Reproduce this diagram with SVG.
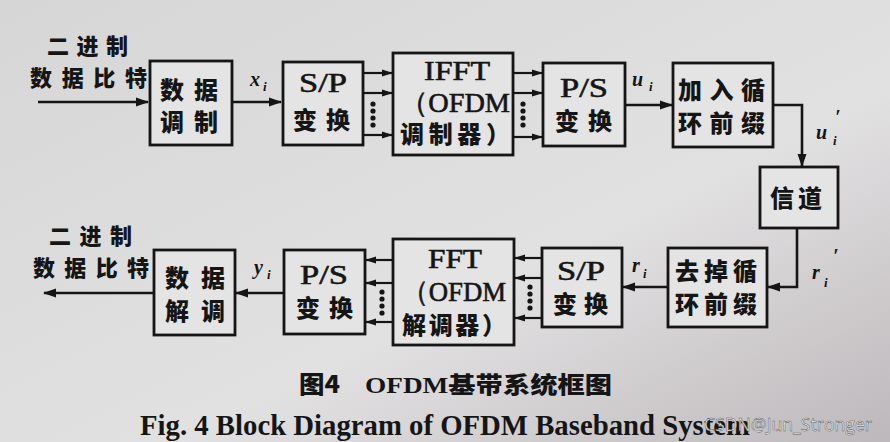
<svg xmlns="http://www.w3.org/2000/svg" width="890" height="442" viewBox="0 0 890 442">
<defs>
<linearGradient id="bg" x1="0" y1="0" x2="1" y2="1">
<stop offset="0" stop-color="#d6d6d6"/>
<stop offset="0.6" stop-color="#e2e1e2"/>
<stop offset="1" stop-color="#bdb8bb"/>
</linearGradient>
<marker id="ah" markerUnits="userSpaceOnUse" markerWidth="14" markerHeight="10" refX="12" refY="5" orient="auto">
<path d="M0,0.5 L13,5 L0,9.5 Z" fill="#151515"/>
</marker>
<marker id="ahs" markerUnits="userSpaceOnUse" markerWidth="12" markerHeight="8" refX="10" refY="4" orient="auto">
<path d="M0,0.5 L11,4 L0,7.5 Z" fill="#151515"/>
</marker>
</defs>
<style>
.box{fill:#e4e4e4;stroke:#151515;stroke-width:2.8}
.cn{font-family:"Noto Sans CJK SC","Noto Sans CJK JP",sans-serif;font-weight:900;fill:#151515;font-size:24px}
.cnl{font-family:"Noto Sans CJK SC","Noto Sans CJK JP",sans-serif;font-weight:900;fill:#151515;font-size:22px}
.lat{font-family:"Liberation Serif","Times New Roman",serif;fill:#151515;font-size:28px;stroke:#151515;stroke-width:0.6;text-anchor:middle}
.var{font-family:"Liberation Serif","Times New Roman",serif;font-style:italic;font-weight:bold;fill:#151515;font-size:20px}
.sub{font-family:"Liberation Serif","Times New Roman",serif;font-style:italic;font-weight:bold;fill:#151515;font-size:13px}
.ln{fill:none;stroke:#151515;stroke-width:2.6}
.ln2{fill:none;stroke:#151515;stroke-width:2.2}
.dot{fill:#151515}
</style>
<rect x="0" y="0" width="890" height="442" fill="url(#bg)"/>

<g id="connectors">
<path class="ln" d="M38,102 H148" marker-end="url(#ah)"/>
<path class="ln" d="M232,102 H281" marker-end="url(#ah)"/>
<path class="ln2" d="M363,73 H392" marker-end="url(#ahs)"/>
<path class="ln2" d="M363,93 H392" marker-end="url(#ahs)"/>
<path class="ln2" d="M363,135 H392" marker-end="url(#ahs)"/>
<circle class="dot" cx="373" cy="104" r="2.6"/><circle class="dot" cx="373" cy="111" r="2.6"/><circle class="dot" cx="373" cy="118" r="2.6"/><circle class="dot" cx="373" cy="125" r="2.6"/>
<path class="ln2" d="M513,73 H542" marker-end="url(#ahs)"/>
<path class="ln2" d="M513,93 H542" marker-end="url(#ahs)"/>
<path class="ln2" d="M513,137 H542" marker-end="url(#ahs)"/>
<circle class="dot" cx="523" cy="104" r="2.6"/><circle class="dot" cx="523" cy="111" r="2.6"/><circle class="dot" cx="523" cy="118" r="2.6"/><circle class="dot" cx="523" cy="125" r="2.6"/>
<path class="ln" d="M625,105 H672" marker-end="url(#ah)"/>
<path class="ln" d="M773,105 H802 V166" marker-end="url(#ah)"/>
<path class="ln" d="M797,228 V287 H768" marker-end="url(#ah)"/>
<path class="ln" d="M668,287 H623" marker-end="url(#ah)"/>
<path class="ln2" d="M542,258 H515" marker-end="url(#ahs)"/>
<path class="ln2" d="M542,278 H515" marker-end="url(#ahs)"/>
<path class="ln2" d="M542,318 H515" marker-end="url(#ahs)"/>
<circle class="dot" cx="530" cy="287" r="2.6"/><circle class="dot" cx="530" cy="294" r="2.6"/><circle class="dot" cx="530" cy="301" r="2.6"/><circle class="dot" cx="530" cy="308" r="2.6"/>
<path class="ln2" d="M393,260 H366" marker-end="url(#ahs)"/>
<path class="ln2" d="M393,283 H366" marker-end="url(#ahs)"/>
<path class="ln2" d="M393,322 H366" marker-end="url(#ahs)"/>
<circle class="dot" cx="382" cy="292" r="2.6"/><circle class="dot" cx="382" cy="299" r="2.6"/><circle class="dot" cx="382" cy="306" r="2.6"/><circle class="dot" cx="382" cy="313" r="2.6"/>
<path class="ln" d="M284,293 H236" marker-end="url(#ah)"/>
<path class="ln" d="M154,293 H44" marker-end="url(#ah)"/>
</g>

<g id="labels">
<text class="cnl" x="47" y="54" textLength="81" lengthAdjust="spacing">二进制</text>
<text class="cnl" x="30" y="86" textLength="117" lengthAdjust="spacing">数据比特</text>
<text class="cnl" x="49" y="244" textLength="83" lengthAdjust="spacing">二进制</text>
<text class="cnl" x="33" y="276" textLength="116" lengthAdjust="spacing">数据比特</text>
<text class="var" x="250" y="86">x</text><text class="sub" x="263" y="91">i</text>
<text class="var" x="632" y="86">u</text><text class="sub" x="649" y="91">i</text>
<text class="var" x="816" y="139">u</text><text class="sub" x="833" y="145">i</text><text class="var" x="835" y="124">′</text>
<text class="var" x="632" y="272">r</text><text class="sub" x="643" y="278">i</text>
<text class="var" x="812" y="279">r</text><text class="sub" x="824" y="287">i</text><text class="var" x="833" y="263">′</text>
<text class="var" x="254" y="274">y</text><text class="sub" x="267" y="279">i</text>
</g>

<g id="n_mod">
<rect class="box" x="150" y="61" width="82" height="84"/>
<text class="cn" x="160" y="99" textLength="58" lengthAdjust="spacing">数据</text>
<text class="cn" x="160" y="131" textLength="58" lengthAdjust="spacing">调制</text>
</g>
<g id="n_sp1">
<rect class="box" x="283" y="62" width="80" height="83"/>
<text class="lat" x="323" y="92" textLength="48" lengthAdjust="spacingAndGlyphs">S/P</text>
<text class="cn" x="293" y="129" textLength="57" lengthAdjust="spacing">变换</text>
</g>
<g id="n_ifft">
<rect class="box" x="393" y="53" width="120" height="102"/>
<text class="lat" x="457" y="80" textLength="66" lengthAdjust="spacingAndGlyphs">IFFT</text>
<text class="lat" x="455" y="112" textLength="110" lengthAdjust="spacingAndGlyphs">（OFDM</text>
<text class="cn" x="400" y="143" textLength="110" lengthAdjust="spacing">调制器）</text>
</g>
<g id="n_ps1">
<rect class="box" x="543" y="63" width="82" height="83"/>
<text class="lat" x="584" y="97" textLength="48" lengthAdjust="spacingAndGlyphs">P/S</text>
<text class="cn" x="555" y="130" textLength="57" lengthAdjust="spacing">变换</text>
</g>
<g id="n_addcp">
<rect class="box" x="673" y="63" width="100" height="84"/>
<text class="cn" x="678" y="99" textLength="87" lengthAdjust="spacing">加入循</text>
<text class="cn" x="678" y="132" textLength="87" lengthAdjust="spacing">环前缀</text>
</g>
<g id="n_channel">
<rect class="box" x="760" y="167" width="78" height="61"/>
<text class="cn" x="770" y="207" textLength="52" lengthAdjust="spacing">信道</text>
</g>
<g id="n_rmcp">
<rect class="box" x="668" y="248" width="99" height="79"/>
<text class="cn" x="675" y="280" textLength="82" lengthAdjust="spacing">去掉循</text>
<text class="cn" x="675" y="313" textLength="82" lengthAdjust="spacing">环前缀</text>
</g>
<g id="n_sp2">
<rect class="box" x="542" y="248" width="80" height="79"/>
<text class="lat" x="581" y="280" textLength="48" lengthAdjust="spacingAndGlyphs">S/P</text>
<text class="cn" x="553" y="313" textLength="55" lengthAdjust="spacing">变换</text>
</g>
<g id="n_fft">
<rect class="box" x="393" y="239" width="121" height="106"/>
<text class="lat" x="455" y="268" textLength="54" lengthAdjust="spacingAndGlyphs">FFT</text>
<text class="lat" x="454" y="301" textLength="104" lengthAdjust="spacingAndGlyphs">（OFDM</text>
<text class="cn" x="402" y="334" textLength="104" lengthAdjust="spacing">解调器）</text>
</g>
<g id="n_ps2">
<rect class="box" x="284" y="250" width="81" height="84"/>
<text class="lat" x="324" y="284" textLength="48" lengthAdjust="spacingAndGlyphs">P/S</text>
<text class="cn" x="296" y="317" textLength="57" lengthAdjust="spacing">变换</text>
</g>
<g id="n_demod">
<rect class="box" x="154" y="250" width="81" height="85"/>
<text class="cn" x="165" y="287" textLength="60" lengthAdjust="spacing">数据</text>
<text class="cn" x="165" y="320" textLength="60" lengthAdjust="spacing">解调</text>
</g>

<g id="caption">
<text class="cn" x="299" y="393" font-size="23" textLength="41" lengthAdjust="spacingAndGlyphs">图4</text>
<text x="365" y="393" font-size="23" textLength="247" lengthAdjust="spacingAndGlyphs" style="font-family:'Liberation Serif','Noto Sans CJK SC',serif;font-weight:bold;fill:#151515">OFDM<tspan style="font-family:'Noto Sans CJK SC',sans-serif;font-weight:900">基带系统框图</tspan></text>
<text x="140" y="435" font-size="29" textLength="610" lengthAdjust="spacingAndGlyphs" style="font-family:'Liberation Serif',serif;font-weight:bold;fill:#151515">Fig. 4 Block Diagram of OFDM Baseband System</text>
<text x="704" y="431" font-size="19" textLength="168" lengthAdjust="spacingAndGlyphs" style="font-family:'Open Sans','Liberation Sans',sans-serif;fill:#f2f2f2;stroke:#555;stroke-width:0.5">CSDN@Jun_Stronger</text>
</g>
</svg>
